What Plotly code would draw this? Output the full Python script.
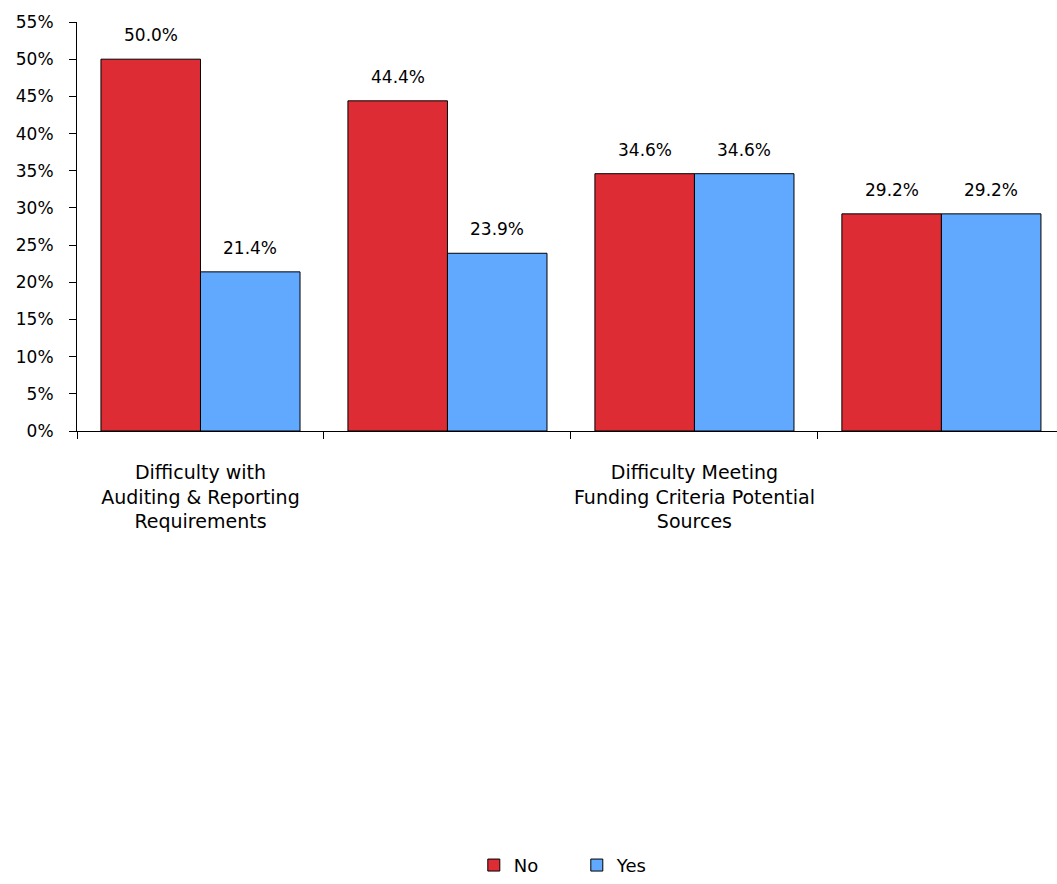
import plotly.graph_objects as go

categories = ["Auditing & Reporting", "Category 2", "Funding Criteria", "Category 4"]
tick_labels = ["Difficulty with<br>Auditing & Reporting<br>Requirements", "",
               "Difficulty Meeting<br>Funding Criteria Potential<br>Sources", ""]
no_values = [50.0, 44.4, 34.6, 29.2]
yes_values = [21.4, 23.9, 34.6, 29.2]
y_ticks = [0, 5, 10, 15, 20, 25, 30, 35, 40, 45, 50, 55]

RED = "#DE2C35"
BLUE = "#61A9FF"
FONT = "DejaVu Sans"

fig = go.Figure()
fig.add_trace(go.Bar(name="No", x=categories, y=no_values, marker=dict(color=RED, line=dict(color="black", width=1))))
fig.add_trace(go.Bar(name="Yes", x=categories, y=yes_values, marker=dict(color=BLUE, line=dict(color="black", width=1))))

# value labels above bars
for i, c in enumerate(categories):
    for j, (vals, shift) in enumerate([(no_values, -0.2), (yes_values, 0.2)]):
        fig.add_annotation(x=i + shift, y=vals[i], xref="x", yref="y",
                           text=f"{vals[i]:.1f}%", showarrow=False, yshift=24,
                           font=dict(family=FONT, size=17, color="black"))

fig.update_layout(
    width=1057, height=884,
    margin=dict(l=77, r=0, t=22, b=450),
    plot_bgcolor="white", paper_bgcolor="white",
    barmode="group", bargap=0.194, bargroupgap=0,
    font=dict(family=FONT, size=17, color="black"),
    showlegend=True,
    legend=dict(orientation="h", x=0.51, xanchor="center", y=-1.062, yanchor="middle",
                font=dict(family=FONT, size=18), entrywidth=58, entrywidthmode="pixels",
                itemwidth=30, tracegroupgap=0),
)
fig.update_xaxes(
    type="category", range=[-0.5, 3.468],
    tickmode="array", tickvals=categories, ticktext=tick_labels, tickangle=0,
    tickson="boundaries", ticks="outside", ticklen=7, tickcolor="black",
    showline=True, linecolor="black", linewidth=1, showgrid=False,
    tickfont=dict(family=FONT, size=19), ticklabelstandoff=24,
)
fig.update_yaxes(
    range=[0, 55], tickvals=y_ticks, ticktext=[f"{v}%" for v in y_ticks],
    ticks="outside", ticklen=7, tickcolor="black",
    showline=True, linecolor="black", linewidth=1, showgrid=False, zeroline=False,
    tickfont=dict(family=FONT, size=17), ticklabelstandoff=12,
)

fig.write_html("out.html")
